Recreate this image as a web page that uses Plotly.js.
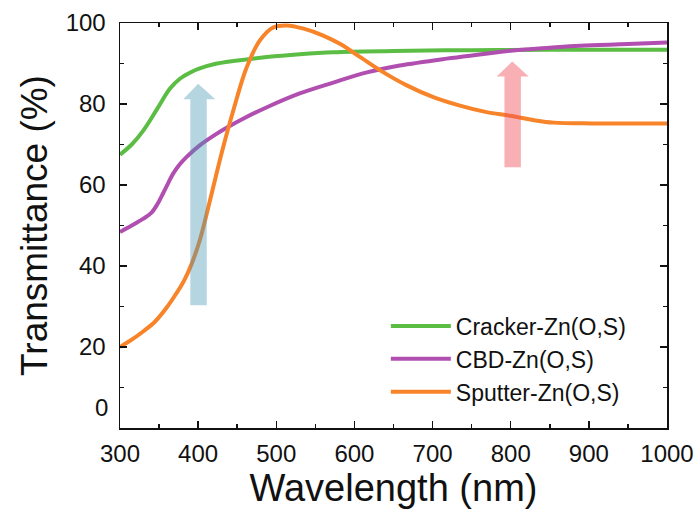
<!DOCTYPE html>
<html>
<head>
<meta charset="utf-8">
<script src="https://cdn.plot.ly/plotly-3.0.1.min.js"></script>
<style>html,body{margin:0;padding:0;background:#fff;}#chart{width:698px;height:510px;}</style>
</head>
<body>
<div id="chart"></div>
<script>
// Cracker-Zn(O,S)
const crackerX = [300,315,330,347,364,377,390,402,420,445,488,530,573,650,750,850,1000];
const crackerY = [67.5,70.0,73.5,78.6,83.8,86.3,87.8,88.8,89.8,90.6,91.6,92.3,92.8,93.1,93.3,93.4,93.4];
// CBD-Zn(O,S)
const cbdX = [300,315,330,340,348,355,362,368,376,385,402,424,437,460,488,530,573,616,658,718,760,803,850,889,950,1000];
const cbdY = [48.4,50.0,51.7,53.1,55.3,57.9,60.6,62.8,65.0,66.9,69.8,72.7,74.2,76.6,79.2,82.6,85.3,87.8,89.5,91.2,92.2,93.2,93.9,94.4,94.8,95.2];
// Sputter-Zn(O,S)
const sputX = [300,315,330,345,360,372,382,392,402,412,422,432,445,462,479,496,513,535,560,582,608,633,667,701,735,769,799,830,855,905,1000];
const sputY = [20.0,21.8,23.9,26.3,29.8,33.2,36.4,40.7,46.3,53.7,61.6,69.3,78.4,89.0,95.7,98.9,99.4,98.6,96.9,94.8,91.5,88.3,84.6,81.7,79.6,78.0,77.1,76.0,75.4,75.2,75.2];

const seriesNames = ['Cracker-Zn(O,S)','CBD-Zn(O,S)','Sputter-Zn(O,S)'];
const seriesColors = ['#5cbd45','#b04fb0','#f8842a'];

// Arrow outlines (wavelength nm, transmittance %)
const blueArrowX = [390,411,411,422,400,381,390,390];
const blueArrowY = [30.3,30.3,81.2,81.2,85.0,81.2,81.2,30.3];
const redArrowX = [792,813,813,823,802,782,792,792];
const redArrowY = [64.4,64.4,86.8,86.8,90.5,86.8,86.8,64.4];

const xTicks = [300,400,500,600,700,800,900,1000];
const yTicks = [20,40,60,80,100];

const font = 'Liberation Sans, Arial, sans-serif';

const traces = [
  {x: crackerX, y: crackerY, name: seriesNames[0], mode:'lines', line:{color:seriesColors[0], width:4, shape:'spline', smoothing:1}},
  {x: cbdX, y: cbdY, name: seriesNames[1], mode:'lines', line:{color:seriesColors[1], width:4, shape:'spline', smoothing:1}},
  {x: sputX, y: sputY, name: seriesNames[2], mode:'lines', line:{color:seriesColors[2], width:4, shape:'spline', smoothing:1}},
  {x: blueArrowX, y: blueArrowY, mode:'lines', fill:'toself', fillcolor:'rgba(70,150,180,0.4)', line:{width:0, color:'rgba(0,0,0,0)'}, showlegend:false, hoverinfo:'skip'},
  {x: redArrowX, y: redArrowY, mode:'lines', fill:'toself', fillcolor:'rgba(240,80,90,0.45)', line:{width:0, color:'rgba(0,0,0,0)'}, showlegend:false, hoverinfo:'skip'}
];

const layout = {
  width: 698, height: 510,
  margin: {l:120, r:31, t:23, b:82},
  paper_bgcolor:'#fff', plot_bgcolor:'#fff',
  font: {family: font, color:'#111'},
  showlegend: true,
  legend: {x:0.486, y:0.305, xanchor:'left', yanchor:'top', bgcolor:'rgba(0,0,0,0)', itemwidth:60, font:{size:23, family:font, color:'#111'}, tracegroupgap:0},
  xaxis: {
    range:[300,1000], tickvals:xTicks, ticktext:xTicks.map(String),
    showline:true, linecolor:'#111', linewidth:1.5, mirror:'ticks',
    ticks:'inside', ticklen:7, tickwidth:1.5, tickcolor:'#111',
    minor:{ticks:'inside', ticklen:4, tickwidth:1.5, tickcolor:'#111', dtick:50, showgrid:false},
    showgrid:false, zeroline:false,
    tickfont:{size:24, family:font, color:'#111'}, ticklabelstandoff:4,
    title:{text:'Wavelength (nm)', font:{size:38, family:font, color:'#111'}, standoff:6}
  },
  yaxis: {
    range:[0,100], tickvals:yTicks, ticktext:yTicks.map(String),
    showline:true, linecolor:'#111', linewidth:1.5, mirror:'ticks',
    ticks:'inside', ticklen:7, tickwidth:1.5, tickcolor:'#111',
    minor:{ticks:'inside', ticklen:4, tickwidth:1.5, tickcolor:'#111', dtick:10, showgrid:false},
    showgrid:false, zeroline:false,
    tickfont:{size:24, family:font, color:'#111'}, ticklabelstandoff:8,
    title:{text:'Transmittance (%)', font:{size:37, family:font, color:'#111'}, standoff:6}
  },
  annotations: [
    {text:'0', xref:'paper', x:0, xanchor:'right', xshift:-10, yref:'y', y:0, yanchor:'middle', yshift:21, showarrow:false, font:{size:24, family:font, color:'#111'}}
  ]
};

Plotly.newPlot('chart', traces, layout, {staticPlot:true, displayModeBar:false});
</script>
</body>
</html>
